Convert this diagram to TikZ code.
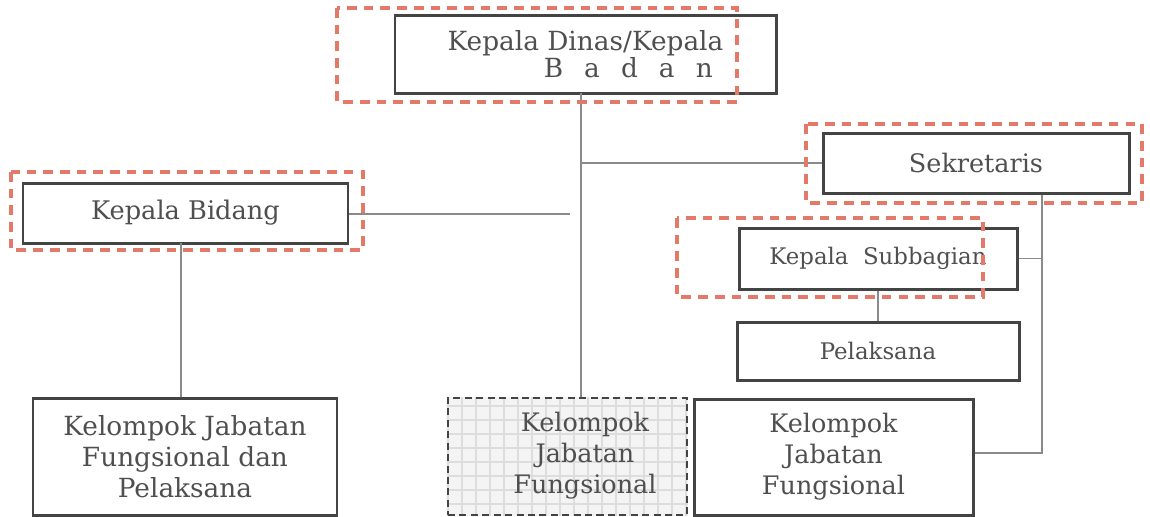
\documentclass[tikz,border=0pt]{standalone}
\usepackage{fontspec}
\setmainfont{DejaVu Serif}
\usepackage{tikz}
\usetikzlibrary{positioning,calc}
\definecolor{pred}{HTML}{E4796A}
\definecolor{pgrayd}{HTML}{444444}
\definecolor{pgrayl}{HTML}{8A8A8A}
\definecolor{pgrid}{HTML}{DDDDDD}
\definecolor{pgridbg}{HTML}{F4F4F4}
\definecolor{ptext}{HTML}{4F4F4F}
\tikzset{
  % plain unit box, dark stroke
  unit/.style  = {rectangle, draw=pgrayd, line width=1.7pt, text=ptext, align=center,
                  inner sep=0pt, font=\fontsize{14.5}{17.6}\selectfont},
  small/.style = {font=\fontsize{13}{16}\selectfont},
  lane/.style  = {draw=pgrayl, line width=1pt},
  hilite/.style = {draw=pred, line width=1.9pt, dash pattern=on 5.5pt off 4pt},
  gridbox/.style = {rectangle, draw=pgrayd, line width=1.6pt, dash pattern=on 4pt off 2.5pt,
                  inner sep=0pt},
}

\begin{document}
\begin{tikzpicture}[x=1cm,y=1cm]
\useasboundingbox (0,0) rectangle (23,-10.32);
% top
\node[unit, minimum width=7.62cm, minimum height=1.56cm, align=right,
      font=\fontsize{15}{15.5}\selectfont] (kadis) at (11.71,-1.08)
  {Kepala Dinas/Kepala\\B\hspace{12pt}a\hspace{12pt}d\hspace{12pt}a\hspace{12pt}n\hspace*{6pt}};
\node[unit, minimum width=6.12cm, minimum height=1.2cm, font=\fontsize{14.5}{17}\selectfont]
  (sekr) at (19.52,-3.26) {Sekretaris};
\node[unit, minimum width=6.5cm, minimum height=1.2cm, font=\fontsize{14.6}{17}\selectfont]
  (bidang) at (3.71,-4.26) {Kepala Bidang};
\node[unit, small, minimum width=5.56cm, minimum height=1.22cm] (subbag) at (17.56,-5.17)
  {Kepala\ \ Subbagian};
\node[unit, small, minimum width=5.64cm, minimum height=1.16cm] (pelaks) at (17.56,-7.02) {Pelaksana};
% bottom row
\node[unit, minimum width=6.08cm, minimum height=2.34cm, font=\fontsize{15}{17.6}\selectfont]
  (kjfp) at (3.70,-9.13) {Kelompok Jabatan\\Fungsional dan\\Pelaksana};
\node[gridbox, minimum width=4.78cm, minimum height=2.34cm] (kjf) at (11.35,-9.13) {};
\begin{scope}
  \clip (kjf.south west) rectangle (kjf.north east);
  \fill[pgridbg] (kjf.south west) rectangle (kjf.north east);
  \draw[pgrid, line width=0.6pt, step=0.28cm] (kjf.south west) grid (kjf.north east);
\end{scope}
\node[gridbox, minimum width=4.78cm, minimum height=2.34cm] at (kjf) {};
\node[text=ptext, align=center, font=\fontsize{14.5}{17.6}\selectfont] (kjft) at (11.7,-9.12)
  {Kelompok\\Jabatan\\Fungsional};
\node[unit, minimum width=5.58cm, minimum height=2.32cm] (kjfr) at (16.67,-9.14)
  {Kelompok\\Jabatan\\Fungsional};
% lines
\coordinate (trunk) at (11.62,-1.86);
\coordinate (bj) at (11.4,-4.28);
\coordinate (bd) at (3.62,-4.86);
\coordinate (sj) at (20.84,-9.06);
\draw[lane] (trunk) -- (trunk |- kjf.north);
\draw[lane] (trunk |- sekr.west) -- (sekr.west);
\draw[lane] (bidang.east |- bj) -- (bj);
\draw[lane] (bd) -- (bd |- kjfp.north);
\draw[lane] (sekr.south -| sj) -- (sj) -- (kjfr.east |- sj);
\draw[lane] (subbag.east) -- (subbag.east -| sj);
\draw[lane] (subbag.south) -- (pelaks.north);
% red frames
\foreach \a/\b in {{6.74,-0.16}/{14.74,-2.04}, {16.12,-2.48}/{22.84,-4.06},
                   {0.22,-3.44}/{7.26,-5.0}, {13.54,-4.36}/{19.66,-5.94}}
  {\draw[hilite] (\a) rectangle (\b);}
\end{tikzpicture}
\end{document}
